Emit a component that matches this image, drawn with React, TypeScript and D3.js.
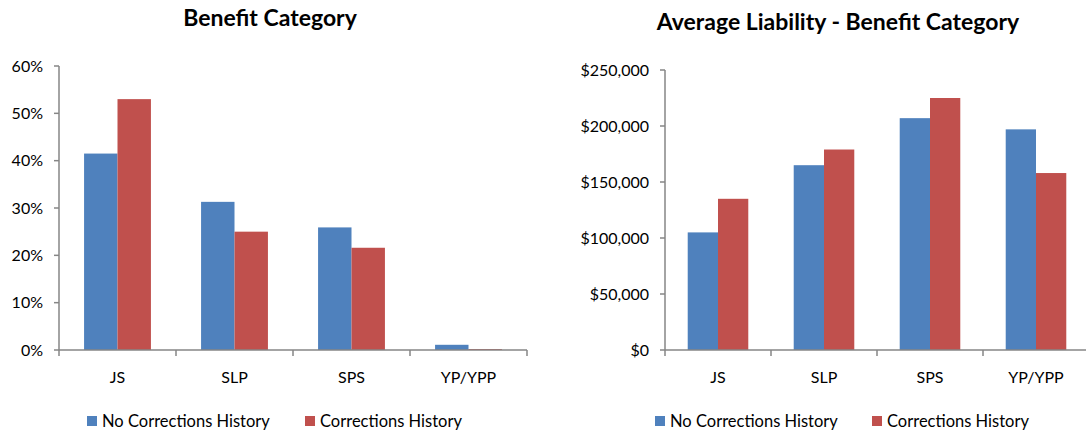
import React from "react"
import { scaleBand, scaleLinear, format } from "d3"

const categories = ["JS", "SLP", "SPS", "YP/YPP"]
const seriesNames = ["No Corrections History", "Corrections History"]
const colors = ["#4F81BD", "#C0504D"]

// left chart: share of each benefit category
const shareNoCorrections = [0.415, 0.313, 0.259, 0.011]
const shareCorrections = [0.53, 0.25, 0.216, 0.002]
const shareTicks = [0, 0.1, 0.2, 0.3, 0.4, 0.5, 0.6]

// right chart: average liability
const liabilityNoCorrections = [105000, 165000, 207000, 197000]
const liabilityCorrections = [135000, 179000, 225000, 158000]
const liabilityTicks = [0, 50000, 100000, 150000, 200000, 250000]

const FONT = "Lato, 'Open Sans', sans-serif"
const AXIS = "#868686"

type ChartProps = {
  title: string
  titleX: number
  titleY: number
  left: number
  right: number
  top: number
  bottom: number
  series: number[][]
  ticks: number[]
  fmt: (v: number) => string
  legendX: number[]
}

const BarChart = ({
  title,
  titleX,
  titleY,
  left,
  right,
  top,
  bottom,
  series,
  ticks,
  fmt,
  legendX,
}: ChartProps) => {
  const x0 = scaleBand<string>().domain(categories).range([left, right])
  const x1 = scaleBand<number>()
    .domain(series.map((_, i) => i))
    .range([0, x0.bandwidth()])
    .paddingInner(0)
    .paddingOuter(0.75)
  const y = scaleLinear()
    .domain([0, ticks[ticks.length - 1]])
    .range([bottom, top])

  const boundaries = categories.map((c) => x0(c)!).concat([right])

  return (
    <g>
      <text
        x={titleX}
        y={titleY}
        textAnchor="middle"
        fontFamily={FONT}
        fontWeight={700}
        fontSize={23}
        fill="#000"
      >
        {title}
      </text>

      {/* bars */}
      {series.map((vals, si) =>
        vals.map((v, ci) => (
          <rect
            key={`${si}-${ci}`}
            x={x0(categories[ci])! + x1(si)!}
            y={y(v)}
            width={x1.bandwidth()}
            height={bottom - y(v)}
            fill={colors[si]}
          />
        )),
      )}

      {/* y axis */}
      <line x1={left} x2={left} y1={top} y2={bottom} stroke={AXIS} strokeWidth={1.5} />
      {ticks.map((t) => (
        <g key={t}>
          <line x1={left - 5} x2={left} y1={y(t)} y2={y(t)} stroke={AXIS} strokeWidth={1.5} />
          <text
            x={left - 16}
            y={y(t)}
            dy="0.35em"
            textAnchor="end"
            fontFamily={FONT}
            fontSize={16}
            fill="#000"
          >
            {fmt(t)}
          </text>
        </g>
      ))}

      {/* x axis */}
      <line x1={left} x2={right} y1={bottom} y2={bottom} stroke={AXIS} strokeWidth={1.5} />
      {boundaries.map((b, i) => (
        <line key={i} x1={b} x2={b} y1={bottom} y2={bottom + 6} stroke={AXIS} strokeWidth={1.5} />
      ))}
      {categories.map((c) => (
        <text
          key={c}
          x={x0(c)! + x0.bandwidth() / 2}
          y={383}
          textAnchor="middle"
          fontFamily={FONT}
          fontSize={16}
          fill="#000"
        >
          {c}
        </text>
      ))}

      {/* legend */}
      {seriesNames.map((name, i) => (
        <g key={name}>
          <rect x={legendX[i]} y={416} width={10} height={10} fill={colors[i]} />
          <text
            x={legendX[i] + 15}
            y={421}
            dy="0.35em"
            fontFamily={FONT}
            fontSize={16.5}
            fill="#000"
          >
            {name}
          </text>
        </g>
      ))}
    </g>
  )
}

const App = () => {
  const pct = format(".0%")
  const money = (v: number) => "$" + format(",")(v)
  return (
    <svg
      width={1086}
      height={432}
      style={{ position: "absolute", left: 0, top: 0, background: "#fff" }}
    >
      <BarChart
        title="Benefit Category"
        titleX={270}
        titleY={26}
        left={59}
        right={527}
        top={66}
        bottom={350}
        series={[shareNoCorrections, shareCorrections]}
        ticks={shareTicks}
        fmt={pct}
        legendX={[87, 305]}
      />
      <BarChart
        title="Average Liability - Benefit Category"
        titleX={838}
        titleY={30}
        left={665}
        right={1089}
        top={70}
        bottom={350}
        series={[liabilityNoCorrections, liabilityCorrections]}
        ticks={liabilityTicks}
        fmt={money}
        legendX={[655, 872]}
      />
    </svg>
  )
}

export default App
